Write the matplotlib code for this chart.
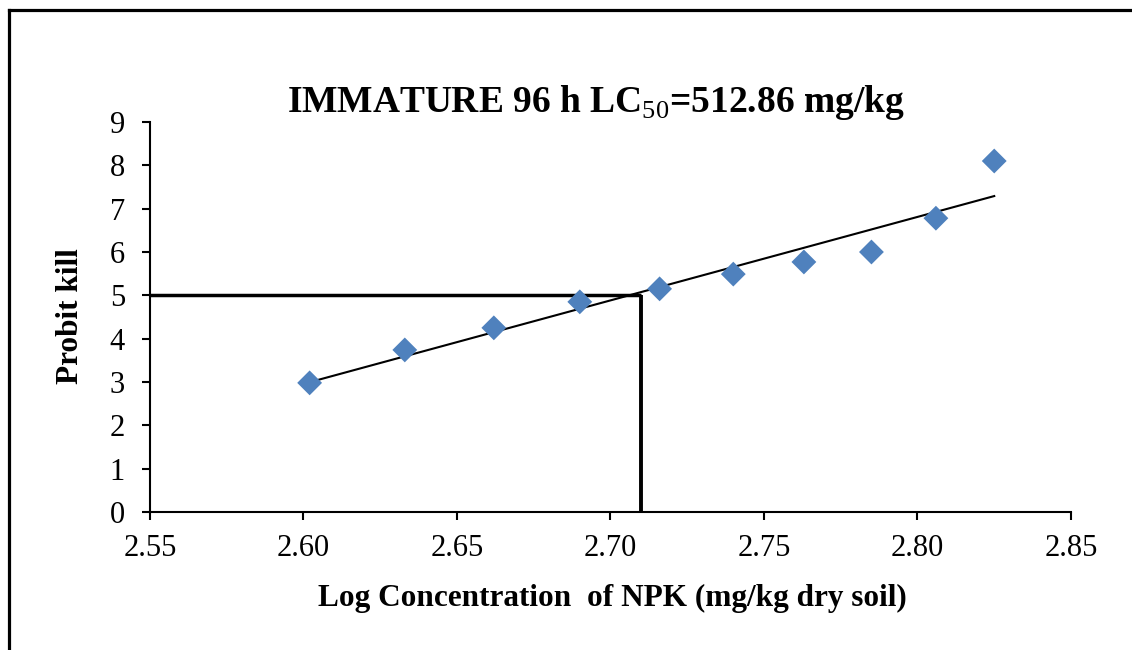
import numpy as np
import matplotlib
matplotlib.use("Agg")
import matplotlib.pyplot as plt
from matplotlib.lines import Line2D

plt.rcParams['font.family'] = ['Liberation Serif', 'DejaVu Serif']
plt.rcParams['mathtext.fontset'] = 'custom'
plt.rcParams['mathtext.rm'] = 'Liberation Serif'
plt.rcParams['mathtext.bf'] = 'Liberation Serif:bold'

# data
log_conc = [2.602, 2.633, 2.662, 2.690, 2.716, 2.740, 2.763, 2.785, 2.806, 2.825]
probit = [2.98, 3.74, 4.25, 4.85, 5.15, 5.49, 5.77, 6.00, 6.78, 8.10]
lc50 = 512.86
x_ticks = [2.55, 2.60, 2.65, 2.70, 2.75, 2.80, 2.85]
y_ticks = list(range(0, 10))

fig = plt.figure(figsize=(11.32, 6.5), dpi=100)
ax = fig.add_axes([0.1325, 0.2123, 0.8136, 0.6])

# linear trend line over the data range
slope, icpt = np.polyfit(log_conc, probit, 1)
xs = np.array([min(log_conc), max(log_conc)])
ax.plot(xs, slope * xs + icpt, color='black', lw=1.5, zorder=2)

ax.scatter(log_conc, probit, marker='D', s=160, color='#4F81BD',
           edgecolors='none', zorder=3)

# LC50 guide lines
x50 = np.log10(lc50)
ax.plot([x_ticks[0], x50], [5, 5], color='black', lw=2.5, zorder=2,
        solid_capstyle='butt', clip_on=False)
ax.plot([x50, x50], [0, 5], color='black', lw=2.8, zorder=2,
        solid_capstyle='butt', clip_on=False)

ax.set_xlim(x_ticks[0], x_ticks[-1])
ax.set_ylim(0, 9)
ax.set_xticks(x_ticks)
ax.set_xticklabels([f"{t:.2f}" for t in x_ticks])
ax.set_yticks(y_ticks)

for s in ['top', 'right']:
    ax.spines[s].set_visible(False)
for s in ['left', 'bottom']:
    ax.spines[s].set_linewidth(1.5)
ax.tick_params(axis='both', direction='out', length=6, width=1.5,
               labelsize=22)
ax.tick_params(axis='x', pad=10)
ax.tick_params(axis='y', pad=12)

fig.text(596 / 1132, 1 - 103 / 650,
         r'IMMATURE 96 h LC$_{\mathrm{50}}$=512.86 mg/kg',
         ha='center', va='center', fontsize=27, fontweight='bold')
fig.text(612 / 1132, 1 - 598 / 650,
         'Log Concentration  of NPK (mg/kg dry soil)',
         ha='center', va='center', fontsize=22.5, fontweight='bold')
fig.text(70 / 1132, 1 - 316 / 650, 'Probit kill', rotation=90,
         ha='center', va='center', fontsize=22.5, fontweight='bold')

# outer frame (left and top edges only)
fig.add_artist(Line2D([9 / 1132, 9 / 1132], [0, 1 - 10 / 650],
                      color='black', lw=2.3, transform=fig.transFigure))
fig.add_artist(Line2D([9 / 1132, 1], [1 - 10 / 650, 1 - 10 / 650],
                      color='black', lw=2.3, transform=fig.transFigure))

fig.savefig('out.png', dpi=100, facecolor='white')
